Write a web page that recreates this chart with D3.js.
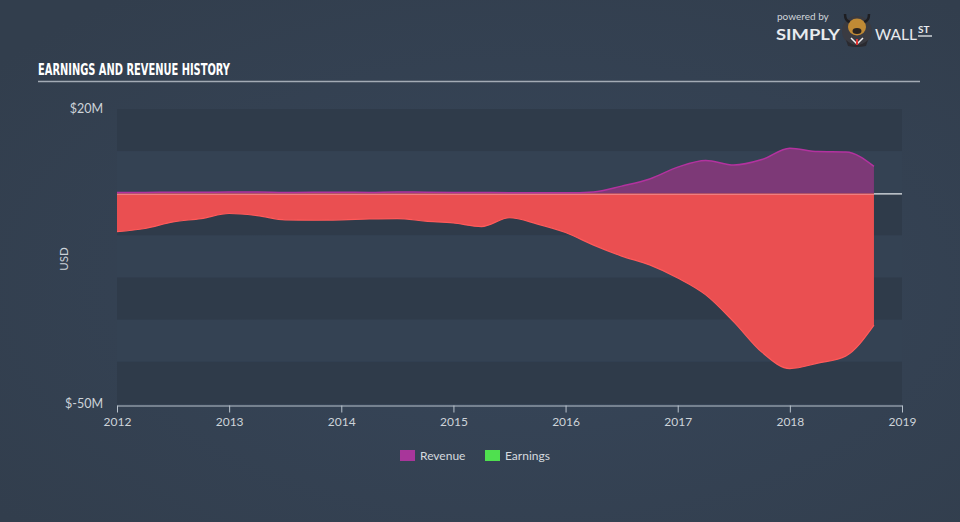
<!DOCTYPE html>
<html><head><meta charset="utf-8">
<script src="https://cdn.jsdelivr.net/npm/d3@7"></script>
<style>body{margin:0;background:#333f4e;}svg{display:block;}</style>
</head><body>
<svg id="chart" width="960" height="522"></svg>
<script>
// Data (quarterly, USD millions)
const dates = [2012.00,2012.25,2012.50,2012.75,2013.00,2013.25,2013.50,2013.75,2014.00,2014.25,2014.50,2014.75,2015.00,2015.25,2015.50,2015.75,2016.00,2016.25,2016.50,2016.75,2017.00,2017.25,2017.50,2017.75,2018.00,2018.25,2018.50,2018.75];
const earnings = [-9.1,-8.35,-6.8,-6.0,-4.8,-5.3,-6.3,-6.4,-6.3,-6.1,-6.0,-6.6,-7.05,-7.9,-5.8,-7.3,-9.3,-12.3,-14.9,-17.0,-20.1,-24.1,-30.5,-37.7,-41.6,-40.3,-38.6,-31.3];
const revenue = [0.2,0.2,0.25,0.25,0.3,0.3,0.2,0.25,0.25,0.2,0.3,0.25,0.2,0.2,0.15,0.15,0.1,0.3,1.7,3.4,6.2,7.8,6.7,8.0,10.7,9.9,9.8,6.4];
const yTickValues = [20,-50];
const yTickLabels = ["$20M","$-50M"];
const xTickValues = [2012,2013,2014,2015,2016,2017,2018,2019];
const bandEdges = [20,10,0,-10,-20,-30,-40,-50];
const legendItems = ["Revenue","Earnings"];
const legendColors = ["#a8369a","#4fe04f"];

const svg = d3.select("#chart");
const defs = svg.append("defs");
const rg = defs.append("radialGradient").attr("id","bg").attr("cx","55%").attr("cy","55%").attr("r","70%");
rg.append("stop").attr("offset","0%").attr("stop-color","#37465a");
rg.append("stop").attr("offset","100%").attr("stop-color","#323e4d");
svg.append("rect").attr("width",960).attr("height",522).attr("fill","url(#bg)");

const x = d3.scaleLinear().domain([2012,2019]).range([117,902]);
const y = d3.scaleLinear().domain([-50,20]).range([404,109]);

// bands
const bands = d3.pairs(bandEdges);
svg.append("g").selectAll("rect").data(bands).join("rect")
  .attr("x",x(2012)).attr("width",x(2019)-x(2012))
  .attr("y",d=>y(d[0])).attr("height",d=>y(d[1])-y(d[0]))
  .attr("fill",(d,i)=> i%2===0 ? "#2f3b4a" : "#344253");

const pts = dates.map((d,i)=>({t:d,e:earnings[i],r:revenue[i]}));
const curve = d3.curveMonotoneX;

// earnings area
svg.append("path").datum(pts)
  .attr("d", d3.area().curve(curve).x(d=>x(d.t)).y0(y(0)).y1(d=>y(d.e)))
  .attr("fill","#ea4f51");
svg.append("path").datum(pts)
  .attr("d", d3.line().curve(curve).x(d=>x(d.t)).y(d=>y(d.e)))
  .attr("fill","none").attr("stroke","#ff5a5a").attr("stroke-width",1.2);

// revenue area
svg.append("path").datum(pts)
  .attr("d", d3.area().curve(curve).x(d=>x(d.t)).y0(y(0)).y1(d=>y(d.r)))
  .attr("fill","#7d3977");
svg.append("path").datum(pts)
  .attr("d", d3.line().curve(curve).x(d=>x(d.t)).y(d=>y(d.r)))
  .attr("fill","none").attr("stroke","#b3329f").attr("stroke-width",1.5);

// zero line
svg.append("line").attr("x1",x(2012)).attr("x2",x(2019)).attr("y1",y(0)+1).attr("y2",y(0)+1)
  .attr("stroke","#ffffff").attr("stroke-opacity",0.35).attr("stroke-width",1);
svg.append("line").attr("x1",x(dates[dates.length-1])).attr("x2",x(2019)).attr("y1",y(0)+0.5).attr("y2",y(0)+0.5)
  .attr("stroke","#e8ecf0").attr("stroke-width",1);

// x axis
const xAxis = d3.axisBottom(x).tickValues(xTickValues).tickFormat(d3.format("d")).tickSize(6).tickSizeOuter(0);
const gx = svg.append("g").attr("transform","translate(0,405.5)").call(xAxis);
gx.select(".domain").attr("stroke","#b8c2cc");
gx.selectAll(".tick line").attr("stroke","#b8c2cc").attr("y1",0).attr("y2",7);
gx.selectAll("text").attr("fill","#cdd3d9").attr("font-family","Lato, 'Open Sans', sans-serif").attr("font-size",12).attr("dy","0.95em");

// y labels
svg.append("g").selectAll("text").data(yTickValues).join("text")
  .attr("x",103).attr("y",d=>y(d)).attr("dy","0.35em").attr("text-anchor","end")
  .attr("fill","#cdd3d9").attr("font-family","Lato, 'Open Sans', sans-serif").attr("font-size",12.5)
  .text((d,i)=>yTickLabels[i]);
svg.append("text").attr("transform","translate(68,259) rotate(-90)").attr("text-anchor","middle")
  .attr("fill","#cdd3d9").attr("font-family","Lato, 'Open Sans', sans-serif").attr("font-size",11.5).text("USD");

// title
svg.append("text").attr("x",38).attr("y",75).attr("fill","#ffffff")
  .attr("font-family","'Liberation Sans Narrow','DejaVu Sans Condensed',sans-serif").attr("font-weight","bold")
  .attr("font-size",15).attr("textLength",192).attr("lengthAdjust","spacingAndGlyphs")
  .text("EARNINGS AND REVENUE HISTORY");
svg.append("line").attr("x1",38).attr("x2",920).attr("y1",81.5).attr("y2",81.5)
  .attr("stroke","#a3abb5").attr("stroke-width",1.5);

// legend
const lg = svg.append("g");
const lx = [400,485];
legendItems.forEach((name,i)=>{
  lg.append("rect").attr("x",lx[i]).attr("y",450).attr("width",15).attr("height",11).attr("fill",legendColors[i]);
  lg.append("text").attr("x",lx[i]+20).attr("y",460).attr("fill","#d5dadf")
    .attr("font-family","Lato, 'Open Sans', sans-serif").attr("font-size",12).text(name);
});

// logo
const logo = svg.append("g");
logo.append("text").attr("x",777).attr("y",20).attr("fill","#d0d5da").attr("font-family","Lato, sans-serif").attr("font-size",10).text("powered by");
logo.append("text").attr("x",776).attr("y",40).attr("fill","#e8ebee").attr("font-family","Lato, sans-serif").attr("font-weight","bold").attr("font-size",15).attr("textLength",64).attr("lengthAdjust","spacingAndGlyphs").text("SIMPLY");
logo.append("circle").attr("cx",857).attr("cy",31).attr("r",15).attr("fill","#3a3b42");
logo.append("path").attr("d","M845,14 Q845,21 850,22 M869,14 Q869,21 864,22").attr("stroke","#1e1e22").attr("stroke-width",2.5).attr("fill","none");
logo.append("path").attr("d","M846,40 Q857,50 868,40 L866,46 Q857,48 848,46 Z").attr("fill","#2a2a30");
logo.append("ellipse").attr("cx",857).attr("cy",27).attr("rx",9).attr("ry",8.5).attr("fill","#c08a35");
logo.append("ellipse").attr("cx",857).attr("cy",31).attr("rx",4.5).attr("ry",3).attr("fill","#2a2420");
logo.append("path").attr("d","M851,38 L857,44 L863,38").attr("stroke","#f0f0f0").attr("stroke-width",1.5).attr("fill","none");
logo.append("rect").attr("x",856).attr("y",39).attr("width",2).attr("height",6).attr("fill","#d33");
logo.append("text").attr("x",875).attr("y",40).attr("fill","#e8ebee").attr("font-family","Lato, sans-serif").attr("font-size",15).attr("textLength",42).attr("lengthAdjust","spacingAndGlyphs").text("WALL");
logo.append("text").attr("x",918).attr("y",33).attr("fill","#e8ebee").attr("font-family","Lato, sans-serif").attr("font-weight","bold").attr("font-size",10).text("ST");
logo.append("line").attr("x1",918).attr("x2",932).attr("y1",36).attr("y2",36).attr("stroke","#e8ebee").attr("stroke-width",1.3);
</script>
</body></html>
